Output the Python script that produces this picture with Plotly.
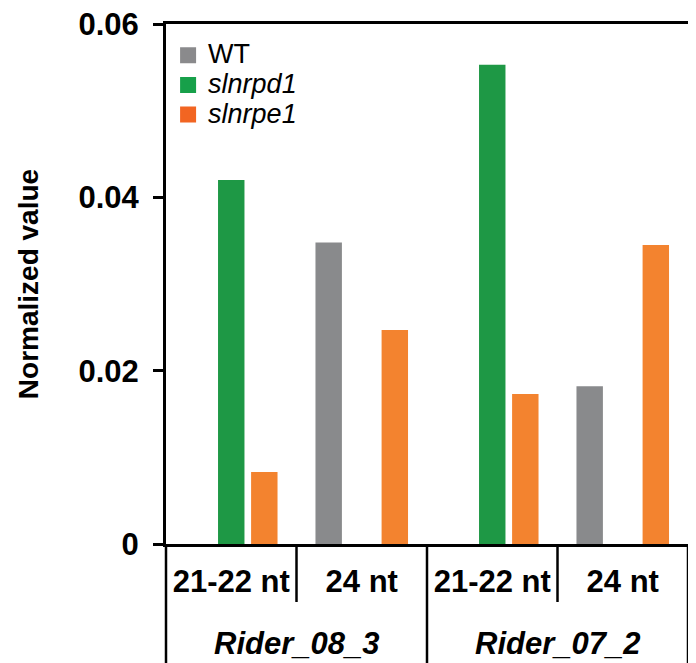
import plotly.graph_objects as go

# ---- data ----
groups = ["Rider_08_3", "Rider_07_2"]
sizes = ["21-22 nt", "24 nt"]
series_names = ["WT", "slnrpd1", "slnrpe1"]
wt = [0.0, 0.0348, 0.0, 0.0182]
slnrpd1 = [0.0420, 0.0, 0.0553, 0.0]
slnrpe1 = [0.0083, 0.0247, 0.0173, 0.0345]
y_ticks = [0, 0.02, 0.04, 0.06]
y_tick_labels = ["0", "0.02", "0.04", "0.06"]

bar_colors = ["#898a8c", "#1e9845", "#f3832f"]
legend_colors = ["#8a8a8c", "#17a04a", "#f26522"]
FONT = "Liberation Sans, Arial, sans-serif"

sub_labels = [s for g in groups for s in sizes]
xpos = list(range(len(sub_labels)))

fig = go.Figure()
for name, vals, col in zip(series_names, [wt, slnrpd1, slnrpe1], bar_colors):
    fig.add_trace(go.Bar(x=xpos, y=vals, name=name, showlegend=False,
                         marker=dict(color=col, line=dict(width=0))))

# legend entries (square swatches)
for name, col in zip(series_names, legend_colors):
    txt = name if name == "WT" else f"<i>{name}</i>"
    fig.add_trace(go.Scatter(x=[None], y=[None], mode="markers",
                             name=f"<span style='font-size:27px'>{txt}</span>",
                             marker=dict(symbol="square", size=17, color=col, line=dict(width=0)),
                             showlegend=True, hoverinfo="skip"))

# dividers: short between sub categories, long between groups and at the edges
shapes = []
n_sub = len(sizes)
for i in range(1, len(sub_labels)):
    long_div = (i % n_sub == 0)
    shapes.append(dict(type="line", xref="x", yref="paper", x0=i - 0.5, x1=i - 0.5,
                       y0=0, y1=-0.3 if long_div else -0.1115,
                       line=dict(color="black", width=2.5)))
for xd in (0, 1):
    shapes.append(dict(type="line", xref="x domain", yref="paper", x0=xd, x1=xd,
                       y0=0, y1=-0.3, line=dict(color="black", width=2.5)))

annotations = []
for gi, g in enumerate(groups):
    annotations.append(dict(x=gi * n_sub + (n_sub - 1) / 2, y=-0.192, xref="x", yref="paper",
                            text=f"<b><i>{g}</i></b>", showarrow=False, yanchor="middle",
                            font=dict(family=FONT, size=31, color="black")))

fig.update_layout(
    width=688, height=655,
    margin=dict(l=158, r=8, t=16, b=119, autoexpand=False),
    paper_bgcolor="white", plot_bgcolor="white",
    barmode="group", bargap=0.24, bargroupgap=0.2,
    font=dict(family=FONT, color="black"),
    showlegend=True,
    legend=dict(x=0.004, y=0.978, xanchor="left", yanchor="top",
                font=dict(family=FONT, size=20.5, color="black"),
                bgcolor="rgba(0,0,0,0)", tracegroupgap=0, itemwidth=30,
                traceorder="normal"),
    shapes=shapes, annotations=annotations,
)
fig.update_xaxes(range=[-0.5, len(sub_labels) - 0.5], tickvals=xpos, ticktext=sub_labels,
                 ticks="", showline=True, linecolor="black", linewidth=3, mirror=True,
                 showgrid=False, zeroline=False, automargin=False,
                 tickfont=dict(family=FONT, size=31, color="black", weight="bold"),
                 ticklabelstandoff=8)
fig.update_yaxes(range=[0, 0.06], tickvals=y_ticks, ticktext=y_tick_labels,
                 ticks="outside", ticklen=10, tickwidth=3, tickcolor="black",
                 showline=True, linecolor="black", linewidth=3, mirror=True,
                 showgrid=False, zeroline=False, ticklabeloverflow="allow", automargin=False,
                 tickfont=dict(family=FONT, size=31, color="black", weight="bold"),
                 ticklabelstandoff=8,
                 title=dict(text="<b>Normalized value</b>", standoff=32,
                            font=dict(family=FONT, size=28, color="black")))

fig.write_html("out.html")
